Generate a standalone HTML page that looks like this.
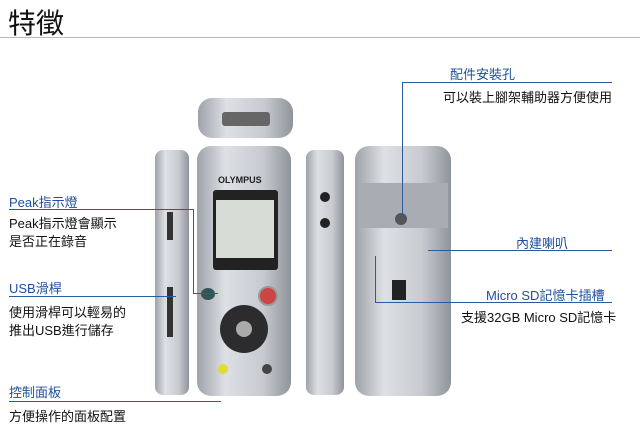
<!DOCTYPE html>
<html><head><meta charset="utf-8"><style>
body{margin:0;width:640px;height:443px;background:#fff;position:relative;overflow:hidden;font-family:"Liberation Sans","Noto Sans CJK TC",sans-serif}
.a{position:absolute;white-space:nowrap}
.b{color:#1f4f9a;font-size:13px}
.t{color:#111;font-size:13px}
.l{position:absolute;background:#2a5aa0}
.dev{position:absolute;background:linear-gradient(90deg,#9ea3aa,#dde0e4 30%,#c7cbd0 70%,#8f949b);border-radius:8px}
</style></head><body>
<div class="a" style="left:8px;top:2px;font-size:28px;color:#111">特徵</div>
<div style="position:absolute;left:0;top:37px;width:640px;height:1px;background:#bbb"></div>

<!-- top mic -->
<div class="dev" style="left:198px;top:98px;width:95px;height:40px;border-radius:14px"></div>
<div style="position:absolute;left:222px;top:112px;width:48px;height:14px;background:#666;border-radius:3px"></div>
<!-- left side -->
<div class="dev" style="left:155px;top:150px;width:34px;height:245px"></div>
<div style="position:absolute;left:167px;top:212px;width:6px;height:28px;background:#333"></div>
<div style="position:absolute;left:167px;top:287px;width:6px;height:50px;background:#333"></div>
<!-- front -->
<div class="dev" style="left:197px;top:146px;width:94px;height:250px;border-radius:14px"></div>
<div style="position:absolute;left:213px;top:190px;width:65px;height:80px;background:#222;border-radius:3px"></div>
<div style="position:absolute;left:216px;top:200px;width:58px;height:58px;background:#d8dcd6"></div>
<div class="a" style="left:218px;top:175px;font-size:9px;font-weight:bold;color:#222">OLYMPUS</div>
<div style="position:absolute;left:220px;top:305px;width:48px;height:48px;border-radius:50%;background:#2c2c2e"></div>
<div style="position:absolute;left:236px;top:321px;width:16px;height:16px;border-radius:50%;background:#aaa"></div>
<div style="position:absolute;left:201px;top:288px;width:14px;height:12px;border-radius:50%;background:#355"></div>
<div style="position:absolute;left:258px;top:286px;width:16px;height:16px;border-radius:50%;background:#c44;border:2px solid #999"></div>
<div style="position:absolute;left:218px;top:364px;width:10px;height:10px;border-radius:50%;background:#dd3"></div>
<div style="position:absolute;left:262px;top:364px;width:10px;height:10px;border-radius:50%;background:#444"></div>
<!-- right side -->
<div class="dev" style="left:306px;top:150px;width:38px;height:245px"></div>
<div style="position:absolute;left:320px;top:192px;width:10px;height:10px;border-radius:50%;background:#222"></div>
<div style="position:absolute;left:320px;top:218px;width:10px;height:10px;border-radius:50%;background:#222"></div>
<!-- back -->
<div class="dev" style="left:355px;top:146px;width:96px;height:250px;border-radius:14px"></div>
<div style="position:absolute;left:360px;top:183px;width:88px;height:45px;background:#a9adb3"></div>
<div style="position:absolute;left:395px;top:213px;width:12px;height:12px;border-radius:50%;background:#555"></div>
<div style="position:absolute;left:392px;top:280px;width:14px;height:20px;background:#222"></div>

<!-- left labels -->
<div class="a b" style="left:9px;top:192px">Peak指示燈</div>
<div class="l" style="left:9px;top:209px;width:185px;height:1px"></div>
<div class="l" style="left:193px;top:209px;width:1px;height:85px"></div>
<div class="l" style="left:193px;top:293px;width:25px;height:1px"></div>
<div class="a t" style="left:9px;top:213px">Peak指示燈會顯示</div>
<div class="a t" style="left:9px;top:231px">是否正在錄音</div>
<div class="a b" style="left:9px;top:278px">USB滑桿</div>
<div class="l" style="left:9px;top:296px;width:167px;height:1px"></div>
<div class="a t" style="left:9px;top:302px">使用滑桿可以輕易的</div>
<div class="a t" style="left:9px;top:320px">推出USB進行儲存</div>
<div class="a b" style="left:9px;top:382px">控制面板</div>
<div class="l" style="left:9px;top:401px;width:212px;height:1px"></div>
<div class="a t" style="left:9px;top:406px">方便操作的面板配置</div>

<!-- right labels -->
<div class="a b" style="left:450px;top:64px">配件安裝孔</div>
<div class="l" style="left:402px;top:82px;width:210px;height:1px"></div>
<div class="l" style="left:402px;top:82px;width:1px;height:134px"></div>
<div class="a t" style="right:28px;top:87px">可以裝上腳架輔助器方便使用</div>
<div class="a b" style="left:516px;top:233px">內建喇叭</div>
<div class="l" style="left:428px;top:250px;width:184px;height:1px"></div>
<div class="a b" style="left:486px;top:285px">Micro SD記憶卡插槽</div>
<div class="l" style="left:375px;top:302px;width:237px;height:1px"></div>
<div class="l" style="left:375px;top:256px;width:1px;height:47px"></div>
<div class="a t" style="left:461px;top:307px">支援32GB Micro SD記憶卡</div>
</body></html>
